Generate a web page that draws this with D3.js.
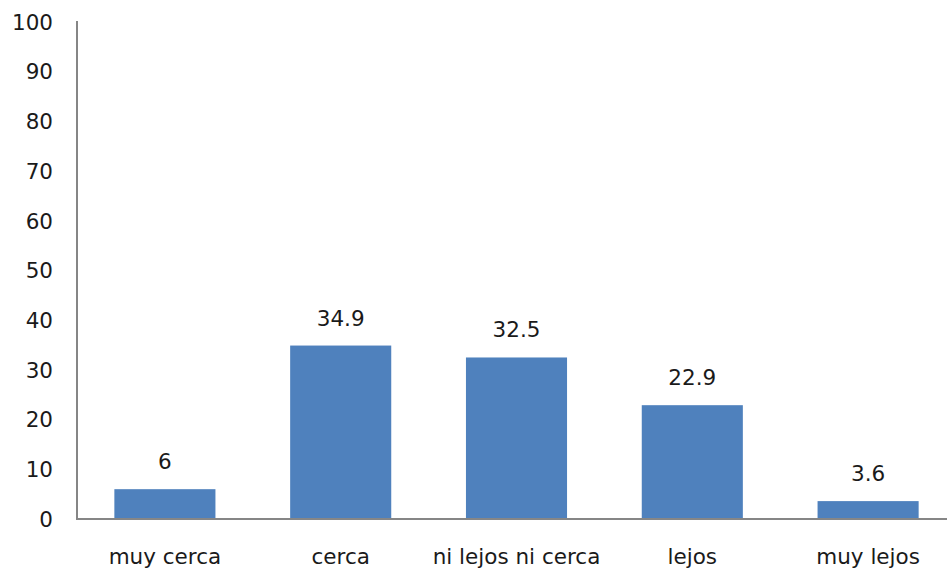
<!DOCTYPE html>
<html>
<head>
<meta charset="utf-8">
<script src="https://cdn.jsdelivr.net/npm/d3@7"></script>
<style>
  html, body { margin: 0; padding: 0; background: #fff; }
  svg { display: block; }
  text { font-family: "DejaVu Sans", Verdana, sans-serif; fill: #1a1a1a; }
</style>
</head>
<body>
<svg id="chart" width="947" height="572"></svg>
<script>
const categories = ["muy cerca", "cerca", "ni lejos ni cerca", "lejos", "muy lejos"];
const values = [6, 34.9, 32.5, 22.9, 3.6];
const valueLabels = ["6", "34.9", "32.5", "22.9", "3.6"];
const yTicks = [0, 10, 20, 30, 40, 50, 60, 70, 80, 90, 100];

const svg = d3.select("#chart");
const x0 = 77, yBase = 519, yTop = 22;

const x = d3.scaleBand().domain(categories).range([x0, 956]).paddingInner(0.425).paddingOuter(0.2125);
const y = d3.scaleLinear().domain([0, 100]).range([yBase, yTop]);

// y tick labels
svg.append("g").selectAll("text").data(yTicks).join("text")
  .attr("x", 53).attr("y", d => y(d)).attr("dy", "0.36em")
  .attr("text-anchor", "end").attr("font-size", 21.5)
  .text(d => d);

// bars
svg.append("g").selectAll("rect").data(values).join("rect")
  .attr("x", (d, i) => x(categories[i]))
  .attr("width", x.bandwidth())
  .attr("y", d => y(d))
  .attr("height", d => yBase - y(d))
  .attr("fill", "#4F81BD");

// value labels
svg.append("g").selectAll("text").data(values).join("text")
  .attr("x", (d, i) => x(categories[i]) + x.bandwidth() / 2)
  .attr("y", d => y(d) - 20)
  .attr("text-anchor", "middle").attr("font-size", 21.5)
  .text((d, i) => valueLabels[i]);

// category labels
svg.append("g").selectAll("text").data(categories).join("text")
  .attr("x", d => x(d) + x.bandwidth() / 2)
  .attr("y", 564)
  .attr("text-anchor", "middle").attr("font-size", 21.5)
  .text(d => d);

// axes lines
svg.append("line").attr("x1", x0).attr("x2", x0).attr("y1", y(100) - 1).attr("y2", yBase)
  .attr("stroke", "#868686").attr("stroke-width", 2);
svg.append("line").attr("x1", x0 - 1).attr("x2", 947).attr("y1", yBase).attr("y2", yBase)
  .attr("stroke", "#868686").attr("stroke-width", 2);
</script>
</body>
</html>
